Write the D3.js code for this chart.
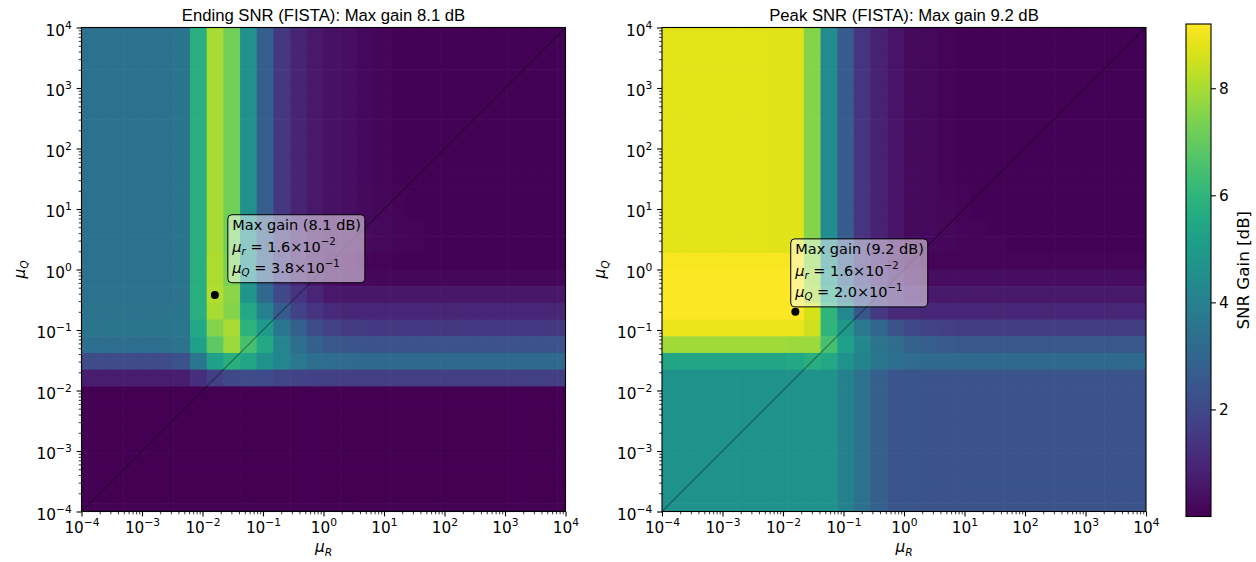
<!DOCTYPE html>
<html>
<head>
  <meta charset="utf-8">
  <script src="https://cdn.jsdelivr.net/npm/d3@7"></script>
  <style>
    body { margin: 0; background: #fff; }
    svg text { font-family: 'DejaVu Sans', sans-serif; }
    svg text.title { font-family: 'Liberation Sans', Arial, sans-serif; }
  </style>
</head>
<body>
<svg id="chart" width="1256" height="562"></svg>
<script>
// log10 of the 30 grid points used for both mu_R (columns) and mu_Q (rows)
var gridExp = [-4.0000, -3.7241, -3.4483, -3.1724, -2.8966, -2.6207, -2.3448, -2.0690, -1.7931, -1.5172,
               -1.2414, -0.9655, -0.6897, -0.4138, -0.1379, 0.1379, 0.4138, 0.6897, 0.9655, 1.2414,
               1.5172, 1.7931, 2.0690, 2.3448, 2.6207, 2.8966, 3.1724, 3.4483, 3.7241, 4.0000];

var axisRange = [1e-4, 1e4];
var gainRange = [0, 9.2];
var cbarTicks = [2, 4, 6, 8];
var titles = ["Ending SNR (FISTA): Max gain 8.1 dB", "Peak SNR (FISTA): Max gain 9.2 dB"];
var bestPoints = [
  { mur: 1.6e-2, muq: 3.8e-1, gain: 8.1, rTxt: "1.6", rExp: "\u22122", qTxt: "3.8", qExp: "\u22121" },
  { mur: 1.6e-2, muq: 2.0e-1, gain: 9.2, rTxt: "1.6", rExp: "\u22122", qTxt: "2.0", qExp: "\u22121" }
];

// SNR gain [dB], rows from mu_Q = 1e4 (top) down to mu_Q = 1e-4 (bottom),
// columns from mu_R = 1e-4 (left) to mu_R = 1e4 (right)
var endingGain = [
  [3.45,3.45,3.45,3.45,3.45,3.45,3.55,5.8,8.0,7.2,4.6,2.7,1.5,0.9,0.6,0.4,0.35,0.2,0.12,0.06,0.05,0.05,0.05,0.05,0.05,0.05,0.05,0.05,0.05,0.05],
  [3.45,3.45,3.45,3.45,3.45,3.45,3.55,5.8,8.0,7.2,4.6,2.7,1.5,0.9,0.6,0.4,0.35,0.2,0.12,0.06,0.05,0.05,0.05,0.05,0.05,0.05,0.05,0.05,0.05,0.05],
  [3.45,3.45,3.45,3.45,3.45,3.45,3.55,5.8,8.0,7.2,4.6,2.7,1.5,0.9,0.6,0.4,0.35,0.2,0.12,0.06,0.05,0.05,0.05,0.05,0.05,0.05,0.05,0.05,0.05,0.05],
  [3.45,3.45,3.45,3.45,3.45,3.45,3.55,5.8,8.0,7.2,4.6,2.7,1.5,0.9,0.6,0.4,0.35,0.2,0.12,0.06,0.05,0.05,0.05,0.05,0.05,0.05,0.05,0.05,0.05,0.05],
  [3.45,3.45,3.45,3.45,3.45,3.45,3.55,5.8,8.0,7.2,4.6,2.7,1.5,0.9,0.6,0.4,0.35,0.2,0.12,0.06,0.05,0.05,0.05,0.05,0.05,0.05,0.05,0.05,0.05,0.05],
  [3.45,3.45,3.45,3.45,3.45,3.45,3.55,5.8,8.0,7.2,4.6,2.7,1.5,0.9,0.6,0.4,0.35,0.2,0.12,0.06,0.05,0.05,0.05,0.05,0.05,0.05,0.05,0.05,0.05,0.05],
  [3.45,3.45,3.45,3.45,3.45,3.45,3.55,5.8,8.0,7.2,4.6,2.7,1.5,0.9,0.6,0.4,0.35,0.2,0.12,0.06,0.05,0.05,0.05,0.05,0.05,0.05,0.05,0.05,0.05,0.05],
  [3.45,3.45,3.45,3.45,3.45,3.45,3.55,5.8,8.0,7.2,4.6,2.7,1.5,0.9,0.6,0.4,0.35,0.2,0.12,0.06,0.05,0.05,0.05,0.05,0.05,0.05,0.05,0.05,0.05,0.05],
  [3.45,3.45,3.45,3.45,3.45,3.45,3.55,5.8,8.0,7.2,4.6,2.7,1.5,0.9,0.6,0.4,0.35,0.2,0.12,0.06,0.05,0.05,0.05,0.05,0.05,0.05,0.05,0.05,0.05,0.05],
  [3.45,3.45,3.45,3.45,3.45,3.45,3.55,5.8,8.0,7.2,4.6,2.7,1.5,0.9,0.6,0.4,0.35,0.2,0.12,0.06,0.05,0.05,0.05,0.05,0.05,0.05,0.05,0.05,0.05,0.05],
  [3.45,3.45,3.45,3.45,3.45,3.45,3.55,5.8,8.0,7.2,4.6,2.7,1.5,0.9,0.6,0.4,0.35,0.25,0.15,0.08,0.05,0.05,0.05,0.05,0.05,0.05,0.05,0.05,0.05,0.05],
  [3.45,3.45,3.45,3.45,3.45,3.45,3.55,5.8,8.0,7.2,4.6,2.7,1.5,0.9,0.6,0.4,0.35,0.25,0.15,0.1,0.06,0.05,0.05,0.05,0.05,0.05,0.05,0.05,0.05,0.05],
  [3.45,3.45,3.45,3.45,3.45,3.45,3.55,5.8,8.0,7.2,4.6,2.7,1.5,0.9,0.6,0.4,0.35,0.25,0.18,0.12,0.08,0.06,0.05,0.05,0.05,0.05,0.05,0.05,0.05,0.05],
  [3.45,3.45,3.45,3.45,3.45,3.45,3.55,5.8,8.0,7.2,4.6,2.7,1.5,0.9,0.6,0.4,0.35,0.25,0.18,0.12,0.08,0.06,0.05,0.05,0.05,0.05,0.05,0.05,0.05,0.05],
  [3.45,3.45,3.45,3.45,3.45,3.45,3.55,5.8,8.05,7.3,4.7,2.8,1.55,0.9,0.55,0.3,0.2,0.12,0.08,0.06,0.05,0.05,0.05,0.05,0.05,0.05,0.05,0.05,0.05,0.05],
  [3.45,3.45,3.45,3.45,3.45,3.45,3.55,5.8,8.05,7.4,4.7,2.9,1.6,0.95,0.55,0.3,0.2,0.18,0.15,0.15,0.15,0.15,0.15,0.15,0.15,0.15,0.15,0.15,0.15,0.15],
  [3.45,3.45,3.45,3.45,3.45,3.45,3.5,5.8,8.1,7.6,4.8,3.1,2.0,1.4,0.95,0.6,0.55,0.55,0.55,0.55,0.55,0.55,0.55,0.55,0.55,0.55,0.55,0.55,0.55,0.55],
  [3.5,3.5,3.5,3.5,3.5,3.5,3.55,5.8,8.0,7.5,5.5,4.0,2.6,1.8,1.4,1.1,1.0,0.95,0.95,0.95,0.95,0.95,0.95,0.95,0.95,0.95,0.95,0.95,0.95,0.95],
  [3.55,3.55,3.55,3.55,3.55,3.55,3.6,5.5,7.5,8.0,5.9,5.0,3.6,2.8,2.1,1.8,1.6,1.55,1.5,1.5,1.5,1.5,1.5,1.5,1.5,1.5,1.5,1.5,1.5,1.5],
  [3.3,3.3,3.3,3.3,3.3,3.3,3.5,5.2,6.9,7.8,6.5,5.5,4.2,3.3,2.8,2.5,2.4,2.35,2.3,2.3,2.3,2.3,2.3,2.3,2.3,2.3,2.3,2.3,2.3,2.3],
  [2.1,2.1,2.1,2.1,2.1,2.1,2.3,3.6,5.2,5.8,5.4,4.6,4.2,3.7,3.3,3.2,3.15,3.1,3.1,3.1,3.1,3.1,3.1,3.1,3.1,3.1,3.1,3.1,3.1,3.1],
  [0.7,0.7,0.7,0.7,0.7,0.7,0.75,1.2,1.7,2.0,2.1,2.05,1.9,1.8,1.75,1.7,1.7,1.7,1.7,1.7,1.7,1.7,1.7,1.7,1.7,1.7,1.7,1.7,1.7,1.7],
  [0,0,0,0,0,0,0,0,0,0,0,0,0,0,0,0,0,0,0,0,0,0,0,0,0,0,0,0,0,0],
  [0,0,0,0,0,0,0,0,0,0,0,0,0,0,0,0,0,0,0,0,0,0,0,0,0,0,0,0,0,0],
  [0,0,0,0,0,0,0,0,0,0,0,0,0,0,0,0,0,0,0,0,0,0,0,0,0,0,0,0,0,0],
  [0,0,0,0,0,0,0,0,0,0,0,0,0,0,0,0,0,0,0,0,0,0,0,0,0,0,0,0,0,0],
  [0,0,0,0,0,0,0,0,0,0,0,0,0,0,0,0,0,0,0,0,0,0,0,0,0,0,0,0,0,0],
  [0,0,0,0,0,0,0,0,0,0,0,0,0,0,0,0,0,0,0,0,0,0,0,0,0,0,0,0,0,0],
  [0,0,0,0,0,0,0,0,0,0,0,0,0,0,0,0,0,0,0,0,0,0,0,0,0,0,0,0,0,0],
  [0,0,0,0,0,0,0,0,0,0,0,0,0,0,0,0,0,0,0,0,0,0,0,0,0,0,0,0,0,0]
];

var peakGain = [
  [8.8,8.8,8.8,8.8,8.8,8.8,8.8,8.75,8.75,7.5,4.4,2.6,1.4,0.85,0.5,0.22,0.2,0.1,0.06,0.05,0.05,0.05,0.05,0.05,0.05,0.05,0.05,0.05,0.05,0.05],
  [8.8,8.8,8.8,8.8,8.8,8.8,8.8,8.75,8.75,7.5,4.4,2.6,1.4,0.85,0.5,0.22,0.2,0.1,0.06,0.05,0.05,0.05,0.05,0.05,0.05,0.05,0.05,0.05,0.05,0.05],
  [8.8,8.8,8.8,8.8,8.8,8.8,8.8,8.75,8.75,7.5,4.4,2.6,1.4,0.85,0.5,0.22,0.2,0.1,0.06,0.05,0.05,0.05,0.05,0.05,0.05,0.05,0.05,0.05,0.05,0.05],
  [8.8,8.8,8.8,8.8,8.8,8.8,8.8,8.75,8.75,7.5,4.4,2.6,1.4,0.85,0.5,0.22,0.2,0.1,0.06,0.05,0.05,0.05,0.05,0.05,0.05,0.05,0.05,0.05,0.05,0.05],
  [8.8,8.8,8.8,8.8,8.8,8.8,8.8,8.75,8.75,7.5,4.4,2.6,1.4,0.85,0.5,0.22,0.2,0.1,0.06,0.05,0.05,0.05,0.05,0.05,0.05,0.05,0.05,0.05,0.05,0.05],
  [8.8,8.8,8.8,8.8,8.8,8.8,8.8,8.75,8.75,7.5,4.4,2.6,1.4,0.85,0.5,0.22,0.2,0.1,0.06,0.05,0.05,0.05,0.05,0.05,0.05,0.05,0.05,0.05,0.05,0.05],
  [8.8,8.8,8.8,8.8,8.8,8.8,8.8,8.75,8.75,7.5,4.4,2.6,1.4,0.85,0.5,0.22,0.2,0.1,0.06,0.05,0.05,0.05,0.05,0.05,0.05,0.05,0.05,0.05,0.05,0.05],
  [8.8,8.8,8.8,8.8,8.8,8.8,8.8,8.75,8.75,7.5,4.4,2.6,1.4,0.85,0.5,0.22,0.2,0.1,0.06,0.05,0.05,0.05,0.05,0.05,0.05,0.05,0.05,0.05,0.05,0.05],
  [8.8,8.8,8.8,8.8,8.8,8.8,8.8,8.75,8.75,7.5,4.4,2.6,1.4,0.85,0.5,0.22,0.2,0.1,0.06,0.05,0.05,0.05,0.05,0.05,0.05,0.05,0.05,0.05,0.05,0.05],
  [8.8,8.8,8.8,8.8,8.8,8.8,8.8,8.75,8.75,7.5,4.4,2.6,1.4,0.85,0.5,0.22,0.2,0.1,0.06,0.05,0.05,0.05,0.05,0.05,0.05,0.05,0.05,0.05,0.05,0.05],
  [8.8,8.8,8.8,8.8,8.8,8.8,8.8,8.75,8.75,7.5,4.4,2.6,1.4,0.85,0.5,0.22,0.2,0.12,0.08,0.05,0.05,0.05,0.05,0.05,0.05,0.05,0.05,0.05,0.05,0.05],
  [8.8,8.8,8.8,8.8,8.8,8.8,8.8,8.75,8.75,7.5,4.4,2.6,1.4,0.85,0.5,0.22,0.2,0.15,0.1,0.06,0.05,0.05,0.05,0.05,0.05,0.05,0.05,0.05,0.05,0.05],
  [8.8,8.8,8.8,8.8,8.8,8.8,8.8,8.75,8.75,7.5,4.4,2.6,1.4,0.85,0.5,0.22,0.2,0.15,0.12,0.08,0.06,0.05,0.05,0.05,0.05,0.05,0.05,0.05,0.05,0.05],
  [8.8,8.8,8.8,8.8,8.8,8.8,8.8,8.75,8.75,7.5,4.4,2.6,1.4,0.85,0.5,0.22,0.2,0.15,0.12,0.1,0.08,0.06,0.05,0.05,0.05,0.05,0.05,0.05,0.05,0.05],
  [9.1,9.1,9.1,9.1,9.1,9.1,9.1,9.1,9.1,7.6,4.6,2.7,1.5,0.9,0.5,0.22,0.1,0.1,0.1,0.1,0.1,0.1,0.1,0.1,0.1,0.1,0.1,0.1,0.1,0.1],
  [9.15,9.15,9.15,9.15,9.15,9.15,9.15,9.15,9.15,7.8,5.0,3.0,1.8,1.1,0.7,0.4,0.3,0.3,0.3,0.3,0.3,0.3,0.3,0.3,0.3,0.3,0.3,0.3,0.3,0.3],
  [9.15,9.15,9.15,9.15,9.15,9.15,9.15,9.15,9.15,8.0,5.5,3.6,2.2,1.5,1.0,0.7,0.6,0.6,0.6,0.6,0.6,0.6,0.6,0.6,0.6,0.6,0.6,0.6,0.6,0.6],
  [9.15,9.15,9.15,9.15,9.15,9.15,9.15,9.15,9.2,8.6,6.0,4.3,2.5,1.5,1.1,1.05,1.0,1.0,1.0,1.0,1.0,1.0,1.0,1.0,1.0,1.0,1.0,1.0,1.0,1.0],
  [8.9,8.9,8.9,8.9,8.9,8.9,8.9,8.9,8.9,8.5,6.0,4.9,3.7,3.0,2.3,2.0,1.8,1.7,1.65,1.65,1.65,1.65,1.65,1.65,1.65,1.65,1.65,1.65,1.65,1.65],
  [7.9,7.9,7.9,7.9,7.9,7.9,7.9,7.9,7.8,7.8,6.5,5.2,4.3,3.5,3.2,2.9,2.7,2.6,2.5,2.5,2.5,2.5,2.5,2.5,2.5,2.5,2.5,2.5,2.5,2.5],
  [5.4,5.4,5.4,5.4,5.4,5.4,5.4,5.4,5.5,5.8,5.5,4.7,4.1,3.6,3.3,3.2,3.1,3.1,3.1,3.1,3.1,3.1,3.1,3.1,3.1,3.1,3.1,3.1,3.1,3.1],
  [4.7,4.7,4.7,4.7,4.7,4.7,4.7,4.7,4.7,4.7,4.7,4.0,3.4,2.75,2.4,2.4,2.35,2.35,2.35,2.35,2.35,2.35,2.35,2.35,2.35,2.35,2.35,2.35,2.35,2.35],
  [4.7,4.7,4.7,4.7,4.7,4.7,4.7,4.7,4.7,4.7,4.7,4.0,3.4,2.75,2.4,2.4,2.35,2.35,2.35,2.35,2.35,2.35,2.35,2.35,2.35,2.35,2.35,2.35,2.35,2.35],
  [4.7,4.7,4.7,4.7,4.7,4.7,4.7,4.7,4.7,4.7,4.7,4.0,3.4,2.75,2.4,2.4,2.35,2.35,2.35,2.35,2.35,2.35,2.35,2.35,2.35,2.35,2.35,2.35,2.35,2.35],
  [4.7,4.7,4.7,4.7,4.7,4.7,4.7,4.7,4.7,4.7,4.7,4.0,3.4,2.75,2.4,2.4,2.35,2.35,2.35,2.35,2.35,2.35,2.35,2.35,2.35,2.35,2.35,2.35,2.35,2.35],
  [4.7,4.7,4.7,4.7,4.7,4.7,4.7,4.7,4.7,4.7,4.7,4.0,3.4,2.75,2.4,2.4,2.35,2.35,2.35,2.35,2.35,2.35,2.35,2.35,2.35,2.35,2.35,2.35,2.35,2.35],
  [4.7,4.7,4.7,4.7,4.7,4.7,4.7,4.7,4.7,4.7,4.7,4.0,3.4,2.75,2.4,2.4,2.35,2.35,2.35,2.35,2.35,2.35,2.35,2.35,2.35,2.35,2.35,2.35,2.35,2.35],
  [4.7,4.7,4.7,4.7,4.7,4.7,4.7,4.7,4.7,4.7,4.7,4.0,3.4,2.75,2.4,2.4,2.35,2.35,2.35,2.35,2.35,2.35,2.35,2.35,2.35,2.35,2.35,2.35,2.35,2.35],
  [4.7,4.7,4.7,4.7,4.7,4.7,4.7,4.7,4.7,4.7,4.7,4.0,3.4,2.75,2.4,2.4,2.35,2.35,2.35,2.35,2.35,2.35,2.35,2.35,2.35,2.35,2.35,2.35,2.35,2.35],
  [4.7,4.7,4.7,4.7,4.7,4.7,4.7,4.7,4.7,4.7,4.7,4.0,3.4,2.75,2.4,2.4,2.35,2.35,2.35,2.35,2.35,2.35,2.35,2.35,2.35,2.35,2.35,2.35,2.35,2.35]
];

/*
  Layout
*/
var axSize = 484, axTop = 27.5, axBottom = axTop + axSize;
var fs = 15.3, fsSmall = 10.7;       // tick / axis label text and its script size
var fsAnn = 14.5, fsAnnSmall = 10.2; // annotation box
var majorLen = 4.9, minorLen = 2.8, tickPad = 4.9;

var panels = [
  { left: 81.5, title: titles[0], data: endingGain, best: bestPoints[0], boxDx: 13, boxDy: -80.2 },
  { left: 662, title: titles[1], data: peakGain, best: bestPoints[1], boxDx: -4.6, boxDy: -72.9 }
];

var svg = d3.select("#chart");
var color = d3.scaleSequential(d3.interpolateViridis).domain(gainRange);

var half = (gridExp[1] - gridExp[0]) / 2;
var majors = d3.range(-4, 5).map(function (e) { return Math.pow(10, e); });
var minors = [];
d3.range(-4, 4).forEach(function (e) {
  d3.range(2, 10).forEach(function (m) { minors.push(m * Math.pow(10, e)); });
});

// write a run of (possibly sub/superscripted) pieces into a text element
function mathText(sel, parts) {
  var prev = 0;
  parts.forEach(function (p) {
    var shift = p.shift || 0;
    sel.append("tspan")
      .attr("dy", shift - prev)
      .attr("font-size", p.size || null)
      .attr("font-style", p.italic ? "italic" : null)
      .text(p.t);
    prev = shift;
  });
}

function powerParts(v) {
  var e = Math.round(Math.log10(v));
  return [{ t: "10" }, { t: (e < 0 ? "\u2212" : "") + Math.abs(e), size: fsSmall, shift: -6.8 }];
}

panels.forEach(function (p, pi) {
  var x = d3.scaleLog().domain(axisRange).range([p.left, p.left + axSize]);
  var y = d3.scaleLog().domain(axisRange).range([axBottom, axTop]);

  svg.append("clipPath").attr("id", "clip" + pi)
    .append("rect")
      .attr("x", p.left).attr("y", axTop)
      .attr("width", axSize).attr("height", axSize);

  // flatten the gain table into cells
  var cells = [];
  p.data.forEach(function (row, r) {
    var j = gridExp.length - 1 - r;
    row.forEach(function (v, k) {
      cells.push({ k: k, j: j, v: v });
    });
  });

  var plot = svg.append("g").attr("clip-path", "url(#clip" + pi + ")");

  plot.selectAll("rect.cell")
    .data(cells)
    .enter()
    .append("rect")
      .attr("class", "cell")
      .attr("x", function (d) { return x(Math.pow(10, gridExp[d.k] - half)); })
      .attr("y", function (d) { return y(Math.pow(10, gridExp[d.j] + half)); })
      .attr("width", function (d) {
        return x(Math.pow(10, gridExp[d.k] + half)) - x(Math.pow(10, gridExp[d.k] - half)) + 0.6;
      })
      .attr("height", function (d) {
        return y(Math.pow(10, gridExp[d.j] - half)) - y(Math.pow(10, gridExp[d.j] + half)) + 0.6;
      })
      .attr("fill", function (d) { return color(d.v); });

  // mu_Q = mu_R reference line
  plot.append("line")
    .attr("x1", x(axisRange[0])).attr("y1", y(axisRange[0]))
    .attr("x2", x(axisRange[1])).attr("y2", y(axisRange[1]))
    .attr("stroke", "#000")
    .attr("stroke-opacity", 0.4)
    .attr("stroke-width", 1.1);

  // best point
  var bx = x(p.best.mur), by = y(p.best.muq);
  svg.append("circle")
    .attr("cx", bx).attr("cy", by).attr("r", 4)
    .attr("fill", "#000");

  // annotation box
  var ann = svg.append("g")
    .attr("transform", "translate(" + (bx + p.boxDx) + "," + (by + p.boxDy) + ")");
  ann.append("rect")
    .attr("width", 137).attr("height", 68)
    .attr("rx", 4).attr("ry", 4)
    .attr("fill", "#fff").attr("fill-opacity", 0.5)
    .attr("stroke", "#000").attr("stroke-width", 1);

  ann.append("text")
    .attr("x", 4.5).attr("y", 15.5)
    .attr("font-size", fsAnn)
    .text("Max gain (" + p.best.gain.toFixed(1) + " dB)");

  mathText(ann.append("text").attr("x", 4.5).attr("y", 37).attr("font-size", fsAnn), [
    { t: "\u03bc", italic: true },
    { t: "r", italic: true, size: fsAnnSmall, shift: 3 },
    { t: " = " + p.best.rTxt + "\u00d710" },
    { t: p.best.rExp, size: fsAnnSmall, shift: -6.5 }
  ]);
  mathText(ann.append("text").attr("x", 4.5).attr("y", 58.5).attr("font-size", fsAnn), [
    { t: "\u03bc", italic: true },
    { t: "Q", italic: true, size: fsAnnSmall, shift: 3 },
    { t: " = " + p.best.qTxt + "\u00d710" },
    { t: p.best.qExp, size: fsAnnSmall, shift: -6.5 }
  ]);

  // axes
  var gx = svg.append("g").attr("transform", "translate(0," + axBottom + ")");
  gx.call(d3.axisBottom(x).tickValues(minors).tickSize(minorLen).tickFormat(""));
  gx.selectAll("line").attr("stroke-width", 0.8);
  var gxm = svg.append("g").attr("transform", "translate(0," + axBottom + ")");
  gxm.call(d3.axisBottom(x).tickValues(majors).tickSize(majorLen).tickSizeOuter(0).tickFormat(""));
  gxm.attr("font-family", null).attr("font-size", null);
  gxm.selectAll("line").attr("stroke-width", 1.1);
  gxm.selectAll(".tick text")
    .attr("font-size", fs)
    .attr("y", 21.5).attr("dy", null)
    .each(function (d) { mathText(d3.select(this), powerParts(d)); });

  var gy = svg.append("g").attr("transform", "translate(" + p.left + ",0)");
  gy.call(d3.axisLeft(y).tickValues(minors).tickSize(minorLen).tickFormat(""));
  gy.selectAll("line").attr("stroke-width", 0.8);
  var gym = svg.append("g").attr("transform", "translate(" + p.left + ",0)");
  gym.call(d3.axisLeft(y).tickValues(majors).tickSize(majorLen).tickSizeOuter(0).tickFormat(""));
  gym.attr("font-family", null).attr("font-size", null);
  gym.selectAll("line").attr("stroke-width", 1.1);
  gym.selectAll(".tick text")
    .attr("font-size", fs)
    .attr("x", -(majorLen + tickPad)).attr("y", 7.5).attr("dy", null)
    .each(function (d) { mathText(d3.select(this), powerParts(d)); });

  svg.selectAll(".domain").remove();

  // spines
  svg.append("rect")
    .attr("x", p.left).attr("y", axTop)
    .attr("width", axSize).attr("height", axSize)
    .attr("fill", "none").attr("stroke", "#000").attr("stroke-width", 1.1);

  // titles and axis labels
  svg.append("text")
    .attr("class", "title")
    .attr("x", p.left + axSize / 2).attr("y", 21)
    .attr("text-anchor", "middle")
    .attr("font-size", 16.7)
    .text(p.title);

  mathText(svg.append("text")
      .attr("x", p.left + axSize / 2).attr("y", 552)
      .attr("text-anchor", "middle").attr("font-size", fs), [
    { t: "\u03bc", italic: true },
    { t: "R", italic: true, size: fsSmall, shift: 3.5 }
  ]);

  mathText(svg.append("text")
      .attr("transform", "translate(" + (p.left - 57) + "," + (axTop + axSize / 2) + ") rotate(-90)")
      .attr("text-anchor", "middle").attr("font-size", fs), [
    { t: "\u03bc", italic: true },
    { t: "Q", italic: true, size: fsSmall, shift: 3.5 }
  ]);
});

/*
  Colorbar
*/
var cbLeft = 1186, cbWidth = 25, cbTop = 24, cbBottom = 516.5;
var cb = d3.scaleLinear().domain(gainRange).range([cbBottom, cbTop]);

var grad = svg.append("defs").append("linearGradient")
  .attr("id", "viridisGrad")
  .attr("x1", 0).attr("y1", 1).attr("x2", 0).attr("y2", 0);
grad.selectAll("stop")
  .data(d3.range(0, 1.0001, 0.05))
  .enter()
  .append("stop")
    .attr("offset", function (t) { return t; })
    .attr("stop-color", function (t) { return d3.interpolateViridis(t); });

svg.append("rect")
  .attr("x", cbLeft).attr("y", cbTop)
  .attr("width", cbWidth).attr("height", cbBottom - cbTop)
  .attr("fill", "url(#viridisGrad)")
  .attr("stroke", "#000").attr("stroke-width", 1.1);

var gcb = svg.append("g").attr("transform", "translate(" + (cbLeft + cbWidth) + ",0)");
gcb.call(d3.axisRight(cb).tickValues(cbarTicks).tickSize(majorLen).tickPadding(3).tickSizeOuter(0));
gcb.select(".domain").remove();
gcb.selectAll("line").attr("stroke-width", 1.1);
gcb.attr("font-family", null).attr("font-size", null);
gcb.selectAll(".tick text")
  .attr("font-size", fs)
  .attr("dy", "0.36em");

svg.append("text")
  .attr("transform", "translate(1248.5," + ((cbTop + cbBottom) / 2) + ") rotate(-90)")
  .attr("text-anchor", "middle")
  .attr("font-size", 16.7)
  .text("SNR Gain [dB]");
</script>
</body>
</html>
